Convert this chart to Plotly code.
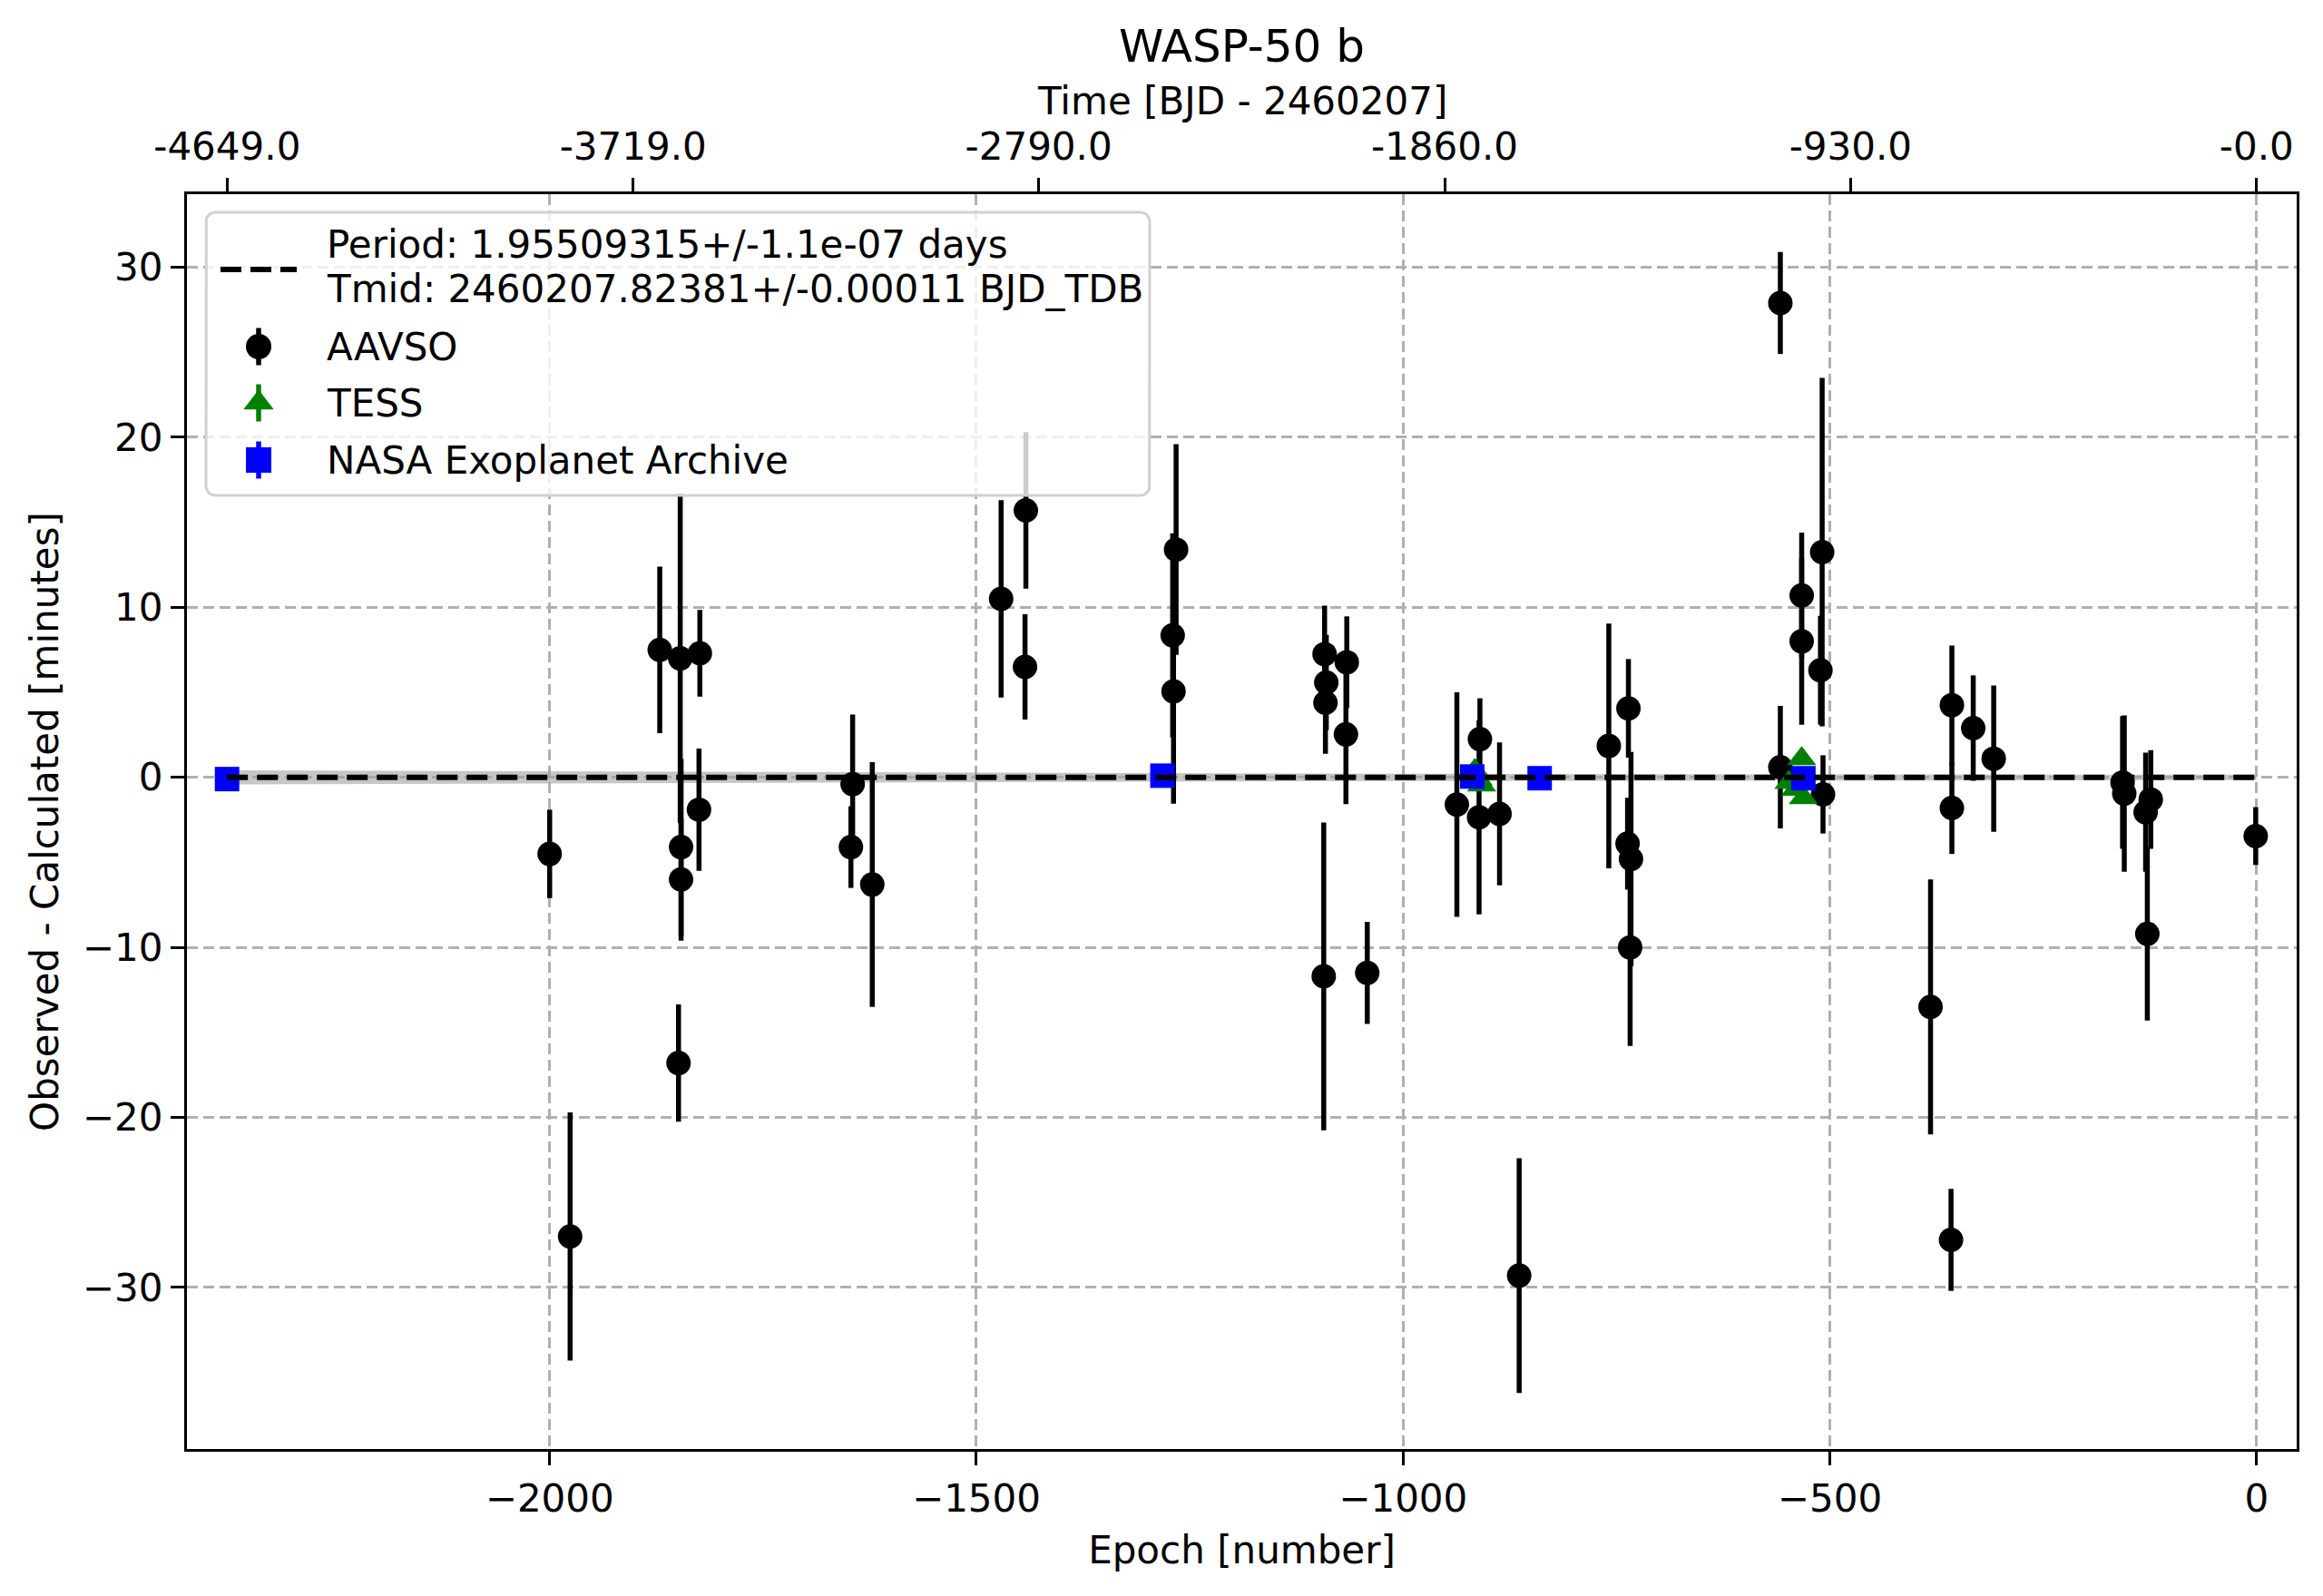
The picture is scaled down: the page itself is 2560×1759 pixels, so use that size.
import math
import plotly.graph_objects as go

# ---------------- data ----------------
period_days = 1.95509315
title_text = "WASP-50 b"
fit_label_lines = ["Period: 1.95509315+/-1.1e-07 days",
                   "Tmid: 2460207.82381+/-0.00011 BJD_TDB"]
series_names = ["AAVSO", "TESS", "NASA Exoplanet Archive"]

aavso_epoch = [-2000, -1976, -1871, -1847, -1824, -1825, -1846, -1846, -1849,
               -1645, -1647, -1622, -1471, -1442, -1443, -1266, -1270, -1269,
               -1092, -1090, -1091, -1066, -1067, -1093, -1042, -937, -910,
               -911, -887, -864, -759, -736, -737, -733, -734, -558, -558,
               -533, -533, -509, -511, -508, -382, -357, -358, -357, -332,
               -308, -157, -155, -130, -124, -128, -1]
aavso_oc = [-4.5, -27.0, 7.5, 7.0, 7.3, -1.9, -4.1, -6.0, -16.8,
            -0.4, -4.1, -6.3, 10.5, 15.7, 6.5, 13.4, 8.35, 5.06,
            7.25, 5.58, 4.39, 6.77, 2.53, -11.7, -11.5, -1.6, 2.25,
            -2.35, -2.15, -29.3, 1.85, 4.06, -3.9, -4.8, -10.0, 27.9, 0.6,
            10.7, 8.0, 13.25, 6.3, -1.0, -13.5, 4.25, -27.2, -1.8, 2.9,
            1.1, -0.3, -0.95, -2.05, -1.3, -9.2, -3.45]
aavso_err = [2.6, 7.3, 4.9, 9.7, 2.55, 3.6, 5.2, 3.6, 3.45,
             4.1, 2.4, 7.2, 5.8, 4.6, 3.1, 6.2, 6.0, 6.6,
             2.85, 2.8, 3.0, 2.7, 4.1, 9.05, 3.0, 6.6, 2.4,
             5.7, 4.2, 6.9, 7.2, 2.9, 2.7, 6.3, 5.8, 3.0, 3.6,
             3.7, 4.9, 10.25, 3.2, 2.3, 7.5, 3.5, 3.0, 2.7, 3.1,
             4.3, 3.9, 4.6, 3.5, 2.9, 5.1, 1.7]

tess_epoch = [-916, -912, -908, -548, -540, -533, -531]
tess_oc = [0.4, -0.1, -0.45, -0.3, -0.7, 1.1, -1.2]
tess_err = [0.3, 0.3, 0.3, 0.3, 0.3, 0.3, 0.3]

nasa_epoch = [-2378, -1282, -919, -840, -531]
nasa_oc = [-0.1, 0.1, 0.05, -0.05, -0.05]
nasa_err = [0.2, 0.2, 0.2, 0.2, 0.2]

fit_epoch = [-2378, 0]
fit_oc = [0.0, 0.0]
band_epoch = [-2378, -2000, -1500, -1000, -500, 0]
band_half = [0.41, 0.35, 0.28, 0.21, 0.17, 0.16]

x_range = [-2425, 47]
y_range = [-39.5, 34.3]
y_ticks = [-30, -20, -10, 0, 10, 20, 30]
x_ticks = [-2000, -1500, -1000, -500, 0]
time_ticks = [-4649.0, -3719.0, -2790.0, -1860.0, -930.0, -0.0]
time_tick_text = ["-4649.0", "-3719.0", "-2790.0", "-1860.0", "-930.0", "-0.0"]

# ---------------- layout geometry (page pixels) ----------------
FONT = "DejaVu Sans"
W, H = 2560, 1759
PL, PR, PT, PB = 206, 2531, 214, 1597       # plot area on the page
OFF = 8                                       # browser body margin
M = dict(l=PL - OFF, r=W - PR + OFF, t=PT - OFF, b=H - PB + OFF)

fig = go.Figure()

# fit uncertainty band
fig.add_trace(go.Scatter(x=band_epoch + band_epoch[::-1],
                         y=band_half + [-h for h in band_half][::-1],
                         fill="toself", fillcolor="rgba(160,160,160,0.6)",
                         line=dict(width=0), mode="lines",
                         showlegend=False, hoverinfo="skip"))

colors = ["black", "green", "blue"]
symbols = ["circle", "triangle-up", "square"]
sizes = [27, 28, 27]
series = [(aavso_epoch, aavso_oc, aavso_err),
          (tess_epoch, tess_oc, tess_err),
          (nasa_epoch, nasa_oc, nasa_err)]
for (ex, oc, er), name, c, s, sz in zip(series, series_names, colors, symbols, sizes):
    fig.add_trace(go.Scatter(x=ex, y=oc, mode="markers", name=name,
                             marker=dict(symbol=s, color=c, size=sz),
                             error_y=dict(type="data", array=er, color=c,
                                          thickness=5.5, width=0),
                             showlegend=False))

fig.add_trace(go.Scatter(x=fit_epoch, y=fit_oc, mode="lines", name="fit",
                         line=dict(color="black", width=6, dash="23px,10px"),
                         showlegend=False))

# invisible trace to carry the top (time) axis
fig.add_trace(go.Scatter(x=[x_range[0] * period_days, x_range[1] * period_days],
                         y=[0, 0], xaxis="x2", yaxis="y", mode="markers",
                         marker=dict(opacity=0), showlegend=False, hoverinfo="skip"))

# ---------------- custom legend (pixel overlay axes) ----------------
lx0, ly0, lx1, ly1, rad = 227, 234, 1267, 546, 10
bx, by = [], []
for cx, cy, a0 in [(lx1 - rad, ly0 + rad, -90), (lx1 - rad, ly1 - rad, 0),
                   (lx0 + rad, ly1 - rad, 90), (lx0 + rad, ly0 + rad, 180)]:
    for k in range(7):
        a = math.radians(a0 + 15 * k)
        bx.append(cx + rad * math.cos(a))
        by.append(cy + rad * math.sin(a))
bx.append(bx[0]); by.append(by[0])
fig.add_trace(go.Scatter(x=bx, y=by, xaxis="x3", yaxis="y3", mode="lines",
                         fill="toself", fillcolor="rgba(255,255,255,0.8)",
                         line=dict(color="#d0d0d0", width=3),
                         showlegend=False, hoverinfo="skip"))
fig.add_trace(go.Scatter(x=[243, 327], y=[297, 297], xaxis="x3", yaxis="y3",
                         mode="lines", line=dict(color="black", width=6, dash="23px,10px"),
                         showlegend=False, hoverinfo="skip"))
leg_rows = [382, 444, 507]
for yy, c, s, sz in zip(leg_rows, colors, symbols, sizes):
    fig.add_trace(go.Scatter(x=[285], y=[yy], xaxis="x3", yaxis="y3", mode="markers",
                             marker=dict(symbol=s, color=c, size=sz + 1),
                             error_y=dict(type="constant", value=20.5, color=c,
                                          thickness=5.5, width=0),
                             showlegend=False, hoverinfo="skip"))

annotations = []
for txt, yy in zip(fit_label_lines + series_names, [269, 318] + leg_rows):
    annotations.append(dict(text=txt, x=358, y=yy, xref="x3", yref="y3",
                            xanchor="left", yanchor="middle", showarrow=False,
                            font=dict(family=FONT, size=42, color="black")))
# top axis title
annotations.append(dict(text="Time [BJD - 2460207]", x=0.5, xref="paper",
                        y=(PB - 111) / (PB - PT), yref="paper",
                        xanchor="center", yanchor="middle", showarrow=False,
                        font=dict(family=FONT, size=42, color="black")))

axis_common = dict(showline=True, linecolor="black", linewidth=3.3,
                   ticks="outside", ticklen=15, tickwidth=3.3, tickcolor="black",
                   tickfont=dict(family=FONT, size=42, color="black"),
                   zeroline=False)

fig.update_layout(
    width=W, height=H,
    margin=M,
    paper_bgcolor="white", plot_bgcolor="white",
    font=dict(family=FONT, size=42, color="black"),
    title=dict(text=title_text, x=0.5, xref="paper", xanchor="center",
               y=1 - (50 - OFF) / H, yref="container", yanchor="middle",
               font=dict(family=FONT, size=50, color="black")),
    xaxis=dict(range=x_range, tickvals=x_ticks, mirror=True,
               showgrid=True, gridcolor="#b0b0b0", gridwidth=2.5, griddash="12px,6px",
               title=dict(text="Epoch [number]", font=dict(family=FONT, size=42),
                          standoff=20),
               **axis_common),
    xaxis2=dict(range=[x_range[0] * period_days, x_range[1] * period_days],
                overlaying="x", side="top", anchor="y",
                tickvals=time_ticks, ticktext=time_tick_text, showgrid=False,
                ticklabelstandoff=3,
                **axis_common),
    xaxis3=dict(range=[PL, PR], overlaying="x", anchor="y3", visible=False,
                fixedrange=True),
    yaxis=dict(range=y_range, tickvals=y_ticks, mirror=True,
               showgrid=True, gridcolor="#b0b0b0", gridwidth=2.5, griddash="12px,6px",
               title=dict(text="Observed - Calculated [minutes]",
                          font=dict(family=FONT, size=42), standoff=14),
               **axis_common),
    yaxis3=dict(range=[PB, PT], overlaying="y", anchor="x3", visible=False,
                fixedrange=True),
    annotations=annotations,
    showlegend=False,
)

fig.write_html("out.html")
